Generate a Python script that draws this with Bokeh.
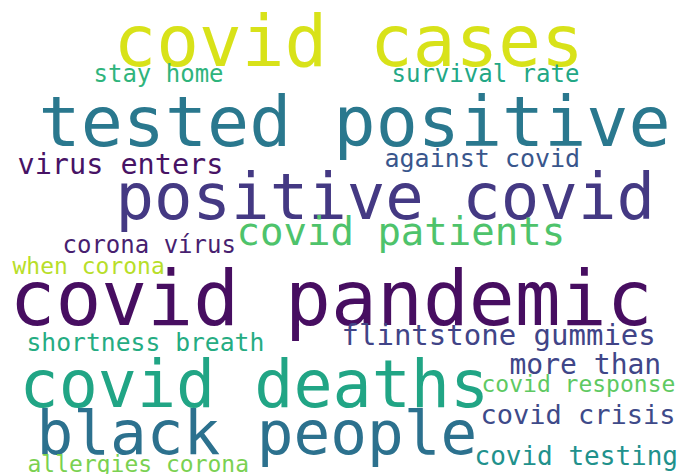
from bokeh.plotting import figure
from bokeh.models import ColumnDataSource, Range1d
from bokeh.core.properties import value
from bokeh.embed import file_html
from bokeh.resources import INLINE

# data: phrases and their relative weight (frequency)
words = ["covid cases", "stay home", "survival rate", "tested positive",
         "virus enters", "against covid", "positive covid", "covid patients",
         "corona vírus", "when corona", "covid pandemic", "flintstone gummies",
         "shortness breath", "more than", "covid deaths", "covid response",
         "black people", "covid crisis", "covid testing", "allergies corona"]
weights = [71, 24, 24, 70, 28.5, 25, 64, 39, 24, 23, 76.3, 29, 24.7, 28, 65, 23, 61, 27, 26, 23]

# layout of the cloud (left edge, text anchor) in pixel coordinates
x_pos = [113, 93, 391, 38, 17, 384, 115, 236, 62, 12, 9, 341, 26, 509, 19, 481, 36, 480, 474, 27]
y_pos = [41, 73, 73, 121, 164, 158, 196, 231, 244, 265, 298, 334, 342, 364, 384, 383, 432, 414, 455, 463]
colors = ["#d8e219", "#2fb47c", "#22a785", "#2a788e", "#471365", "#39568c",
          "#443983", "#4ec36b", "#481f70", "#b8de29", "#470e61", "#414487",
          "#25ac82", "#404688", "#21a585", "#5ec962", "#2c718e", "#3e4a89",
          "#21918c", "#7ad151"]

src = ColumnDataSource(dict(
    x=x_pos, y=y_pos, text=words, color=colors,
    size=["%gpx" % w for w in weights],
))

W, H = 693, 474
p = figure(width=W, height=H, output_backend="svg", toolbar_location=None,
           x_range=Range1d(0, W), y_range=Range1d(H, 0), min_border=0)
p.axis.visible = False
p.grid.visible = False
p.outline_line_color = None
p.background_fill_color = "white"
p.border_fill_color = "white"

p.text(x="x", y="y", text="text", source=src, text_color="color",
       text_font_size="size", text_font=value("DejaVu Sans Mono"),
       text_align="left", text_baseline="alphabetic")

open("out.html", "w").write(file_html(p, INLINE))
